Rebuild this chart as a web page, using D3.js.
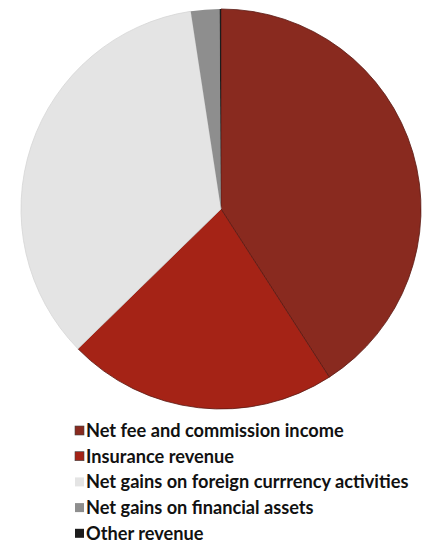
<!DOCTYPE html>
<html><head><meta charset="utf-8">
<script src="https://cdn.jsdelivr.net/npm/d3@7"></script>
<style>html,body{margin:0;padding:0;background:#fff;}</style>
</head><body>
<svg id="chart" width="442" height="550"></svg>
<script>
const categories = ["Net fee and commission income","Insurance revenue","Net gains on foreign currrency activities","Net gains on financial assets","Other revenue"];
const values = [40.9, 21.8, 34.9, 2.3, 0.12];
const colors = ["#892a1f","#a52316","#e4e4e4","#8e8e8e","#1c1c1c"];

const svg = d3.select("#chart");
const cx = 221, cy = 209, r = 200;
const pie = d3.pie().sort(null).value(d => d)(values);
const arc = d3.arc().innerRadius(0).outerRadius(r);
const g = svg.append("g").attr("transform", `translate(${cx},${cy})`);
g.selectAll("path").data(pie).join("path")
  .attr("d", arc)
  .attr("fill", (d,i) => colors[i])
  .attr("stroke", (d,i) => i < 2 ? "#5a1a14" : (i===2 ? "#d6d6d6" : "none"))
  .attr("stroke-width", 0.8);

const leg = svg.append("g").attr("transform","translate(75,437)");
const rows = leg.selectAll("g").data(categories).join("g")
  .attr("transform",(d,i)=>`translate(0,${i*25.7})`);
rows.append("rect").attr("x",0).attr("y",-11).attr("width",9).attr("height",9)
  .attr("fill",(d,i)=>colors[i]).attr("stroke",(d,i)=> i<2 ? "#444" : "none").attr("stroke-width",0.6);
rows.append("text").attr("x",11).attr("y",0)
  .style("font-family","Lato, 'Open Sans', sans-serif").style("font-weight","bold")
  .style("font-size","18.2px").attr("fill","#111").text(d=>d);
</script>
</body></html>
